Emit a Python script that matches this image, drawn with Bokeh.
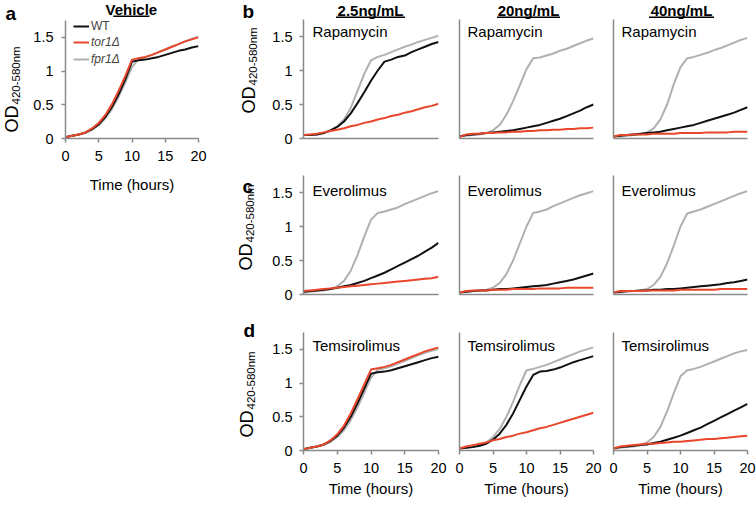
import math
from bokeh.plotting import figure
from bokeh.models import Legend, LegendItem, Arrow, FixedTicker
from bokeh.core.properties import value
from bokeh.layouts import row, column
from bokeh.embed import file_html
from bokeh.resources import INLINE

# ---------------- data ----------------
hours = list(range(21))
x_ticks = [0, 5, 10, 15, 20]
y_ticks = [0, 0.5, 1, 1.5]
y_tick_labels = ["0", "0.5", "1", "1.5"]
strains = ["WT", "tor1Δ", "fpr1Δ"]
drugs = ["Rapamycin", "Everolimus", "Temsirolimus"]
doses = ["2.5ng/mL", "20ng/mL", "40ng/mL"]
vehicle_title = "Vehicle"
panel_letters = ["a", "b", "c", "d"]
x_label = "Time (hours)"
y_label_main = "OD"
y_label_sub = "420-580nm"

# Vehicle
veh_wt = [0.02, 0.04, 0.06, 0.09, 0.14, 0.21, 0.32, 0.47, 0.66, 0.88, 1.14, 1.16, 1.17, 1.19, 1.21, 1.24, 1.27, 1.30, 1.32, 1.35, 1.37]
veh_tor = [0.02, 0.04, 0.06, 0.09, 0.15, 0.23, 0.35, 0.51, 0.71, 0.93, 1.17, 1.19, 1.21, 1.24, 1.28, 1.32, 1.36, 1.40, 1.44, 1.47, 1.50]
veh_fpr = [0.02, 0.04, 0.06, 0.08, 0.13, 0.20, 0.30, 0.44, 0.62, 0.83, 1.06, 1.18, 1.20, 1.24, 1.28, 1.32, 1.36, 1.40, 1.44, 1.48, 1.51]

# Rapamycin
rap25_wt = [0.05, 0.05, 0.06, 0.08, 0.12, 0.17, 0.25, 0.37, 0.52, 0.68, 0.85, 1.00, 1.13, 1.16, 1.20, 1.22, 1.27, 1.31, 1.35, 1.39, 1.42]
rap25_tor = [0.05, 0.06, 0.07, 0.09, 0.11, 0.13, 0.15, 0.18, 0.20, 0.23, 0.25, 0.28, 0.30, 0.33, 0.35, 0.38, 0.40, 0.43, 0.46, 0.48, 0.51]
rap25_fpr = [0.05, 0.05, 0.06, 0.08, 0.12, 0.18, 0.28, 0.45, 0.70, 0.95, 1.15, 1.20, 1.23, 1.27, 1.31, 1.35, 1.38, 1.42, 1.45, 1.48, 1.51]

rap20_wt = [0.03, 0.05, 0.06, 0.07, 0.08, 0.09, 0.10, 0.11, 0.12, 0.14, 0.16, 0.18, 0.20, 0.23, 0.26, 0.29, 0.33, 0.37, 0.41, 0.46, 0.50]
rap20_tor = [0.02, 0.06, 0.07, 0.07, 0.08, 0.08, 0.09, 0.09, 0.10, 0.10, 0.11, 0.11, 0.12, 0.12, 0.13, 0.13, 0.14, 0.14, 0.15, 0.15, 0.16]
rap20_fpr = [0.03, 0.04, 0.05, 0.06, 0.08, 0.12, 0.20, 0.35, 0.55, 0.78, 1.02, 1.18, 1.19, 1.22, 1.25, 1.29, 1.32, 1.36, 1.40, 1.44, 1.47]

rap40_wt = [0.03, 0.04, 0.05, 0.06, 0.07, 0.08, 0.09, 0.10, 0.12, 0.14, 0.16, 0.18, 0.20, 0.23, 0.26, 0.29, 0.32, 0.35, 0.38, 0.42, 0.46]
rap40_tor = [0.03, 0.05, 0.05, 0.06, 0.06, 0.06, 0.07, 0.07, 0.07, 0.07, 0.08, 0.08, 0.08, 0.08, 0.09, 0.09, 0.09, 0.09, 0.10, 0.10, 0.10]
rap40_fpr = [0.03, 0.03, 0.04, 0.05, 0.06, 0.09, 0.15, 0.28, 0.50, 0.80, 1.05, 1.18, 1.20, 1.23, 1.26, 1.30, 1.33, 1.37, 1.41, 1.45, 1.48]

# Everolimus
eve25_wt = [0.04, 0.05, 0.06, 0.07, 0.08, 0.10, 0.12, 0.14, 0.17, 0.20, 0.24, 0.28, 0.32, 0.37, 0.42, 0.47, 0.52, 0.57, 0.63, 0.69, 0.76]
eve25_tor = [0.05, 0.06, 0.07, 0.08, 0.09, 0.10, 0.11, 0.12, 0.13, 0.14, 0.15, 0.16, 0.17, 0.18, 0.19, 0.20, 0.21, 0.22, 0.23, 0.24, 0.26]
eve25_fpr = [0.03, 0.04, 0.05, 0.06, 0.08, 0.12, 0.20, 0.35, 0.58, 0.85, 1.10, 1.20, 1.22, 1.25, 1.28, 1.33, 1.37, 1.41, 1.45, 1.49, 1.52]

eve20_wt = [0.03, 0.04, 0.05, 0.06, 0.06, 0.07, 0.08, 0.08, 0.09, 0.10, 0.11, 0.12, 0.13, 0.14, 0.16, 0.18, 0.20, 0.22, 0.25, 0.28, 0.31]
eve20_tor = [0.03, 0.05, 0.06, 0.06, 0.06, 0.07, 0.07, 0.07, 0.08, 0.08, 0.08, 0.08, 0.09, 0.09, 0.09, 0.09, 0.10, 0.10, 0.10, 0.10, 0.10]
eve20_fpr = [0.03, 0.04, 0.05, 0.06, 0.07, 0.10, 0.17, 0.30, 0.50, 0.75, 1.00, 1.20, 1.22, 1.25, 1.30, 1.34, 1.38, 1.42, 1.46, 1.49, 1.52]

eve40_wt = [0.03, 0.04, 0.05, 0.05, 0.06, 0.06, 0.07, 0.07, 0.08, 0.08, 0.09, 0.10, 0.11, 0.12, 0.13, 0.14, 0.15, 0.17, 0.18, 0.20, 0.22]
eve40_tor = [0.03, 0.05, 0.05, 0.05, 0.05, 0.06, 0.06, 0.06, 0.06, 0.06, 0.07, 0.07, 0.07, 0.07, 0.07, 0.07, 0.08, 0.08, 0.08, 0.08, 0.08]
eve40_fpr = [0.03, 0.03, 0.04, 0.05, 0.06, 0.08, 0.14, 0.26, 0.46, 0.72, 1.00, 1.19, 1.22, 1.25, 1.29, 1.33, 1.37, 1.41, 1.45, 1.49, 1.52]

# Temsirolimus
tem25_wt = [0.02, 0.04, 0.06, 0.09, 0.14, 0.22, 0.34, 0.50, 0.70, 0.92, 1.14, 1.16, 1.17, 1.19, 1.22, 1.25, 1.28, 1.31, 1.34, 1.37, 1.39]
tem25_tor = [0.02, 0.04, 0.06, 0.09, 0.15, 0.24, 0.37, 0.55, 0.76, 0.98, 1.20, 1.22, 1.24, 1.27, 1.31, 1.35, 1.39, 1.43, 1.47, 1.50, 1.53]
tem25_fpr = [0.02, 0.04, 0.06, 0.08, 0.13, 0.20, 0.30, 0.45, 0.64, 0.86, 1.08, 1.20, 1.22, 1.25, 1.29, 1.33, 1.37, 1.41, 1.45, 1.48, 1.51]

tem20_wt = [0.03, 0.04, 0.05, 0.07, 0.10, 0.16, 0.25, 0.38, 0.55, 0.75, 0.95, 1.12, 1.17, 1.18, 1.20, 1.23, 1.27, 1.31, 1.34, 1.37, 1.40]
tem20_tor = [0.03, 0.06, 0.08, 0.10, 0.12, 0.15, 0.17, 0.20, 0.22, 0.25, 0.27, 0.30, 0.33, 0.35, 0.38, 0.41, 0.44, 0.47, 0.50, 0.53, 0.56]
tem20_fpr = [0.03, 0.04, 0.06, 0.08, 0.12, 0.20, 0.32, 0.50, 0.72, 0.97, 1.19, 1.21, 1.24, 1.27, 1.31, 1.35, 1.39, 1.43, 1.47, 1.50, 1.53]

tem40_wt = [0.03, 0.05, 0.06, 0.07, 0.08, 0.09, 0.11, 0.13, 0.16, 0.19, 0.22, 0.26, 0.30, 0.34, 0.39, 0.44, 0.49, 0.54, 0.59, 0.64, 0.69]
tem40_tor = [0.03, 0.06, 0.07, 0.08, 0.09, 0.10, 0.10, 0.11, 0.12, 0.13, 0.13, 0.14, 0.15, 0.16, 0.17, 0.17, 0.18, 0.19, 0.20, 0.21, 0.22]
tem40_fpr = [0.03, 0.04, 0.05, 0.06, 0.08, 0.12, 0.20, 0.35, 0.58, 0.85, 1.10, 1.19, 1.21, 1.24, 1.28, 1.32, 1.36, 1.40, 1.44, 1.47, 1.49]

grid_data = [
    [(rap25_wt, rap25_tor, rap25_fpr), (rap20_wt, rap20_tor, rap20_fpr), (rap40_wt, rap40_tor, rap40_fpr)],
    [(eve25_wt, eve25_tor, eve25_fpr), (eve20_wt, eve20_tor, eve20_fpr), (eve40_wt, eve40_tor, eve40_fpr)],
    [(tem25_wt, tem25_tor, tem25_fpr), (tem20_wt, tem20_tor, tem20_fpr), (tem40_wt, tem40_tor, tem40_fpr)],
]

# ---------------- style ----------------
FONT = "Liberation Sans"
C_WT = "#111111"
C_TOR = "#e9472b"
C_FPR = "#b0b0b0"
AXIS_C = "#8a8a8a"
X_MAX = 20.0
Y_MAX = 1.75
EM_SHIFT = 0.36   # text glyph draws its baseline this many em below / right of its anchor


def make_fig(bl, fw, br, bt, fh, bb, show_xticks, show_yticks, xlabel=False):
    p = figure(width=bl + fw + br, height=bt + fh + bb,
               x_range=(0, X_MAX), y_range=(0, Y_MAX),
               output_backend="svg", toolbar_location=None,
               min_border_left=bl, min_border_right=br,
               min_border_top=bt, min_border_bottom=bb)
    p.outline_line_color = None
    p.xgrid.visible = False
    p.ygrid.visible = False
    for ax in (p.xaxis[0], p.yaxis[0]):
        ax.axis_line_color = AXIS_C
        ax.axis_line_width = 1.5
        ax.major_tick_line_color = AXIS_C
        ax.major_tick_line_width = 1.5
        ax.major_tick_in = 0
        ax.major_tick_out = 4
        ax.minor_tick_in = 0
        ax.minor_tick_out = 0
        ax.major_label_text_font = FONT
        ax.major_label_text_font_size = "14.5px"
        ax.major_label_text_color = "black"
    xa, ya = p.xaxis[0], p.yaxis[0]
    if show_xticks:
        xa.ticker = FixedTicker(ticks=x_ticks)
        xa.major_label_standoff = 8
    else:
        xa.ticker = FixedTicker(ticks=[])
        xa.major_tick_out = 0
        xa.major_label_standoff = 0
    if show_yticks:
        ya.ticker = FixedTicker(ticks=y_ticks)
        ya.major_label_overrides = {t: s for t, s in zip(y_ticks, y_tick_labels)}
        ya.major_label_standoff = 7
    else:
        ya.ticker = FixedTicker(ticks=[])
        ya.major_tick_out = 0
        ya.major_label_standoff = 0
    if xlabel:
        xa.axis_label = x_label
        xa.axis_label_text_font = FONT
        xa.axis_label_text_font_size = "15px"
        xa.axis_label_text_font_style = "normal"
        xa.axis_label_text_color = "black"
        xa.axis_label_standoff = 4
    return p


def make_strip(w, h):
    # plain text area: its frame fills the whole canvas, data units = pixels
    s = figure(width=w, height=h, x_range=(0, w), y_range=(0, h),
               output_backend="svg", toolbar_location=None,
               x_axis_location=None, y_axis_location=None,
               min_border_left=0, min_border_right=0, min_border_top=0, min_border_bottom=0)
    s.outline_line_color = None
    s.xgrid.visible = False
    s.ygrid.visible = False
    return s


def htext(s, x, y_base, text, size, style="normal", align="left"):
    s.text(x=[x], y=[y_base + EM_SHIFT * size], text=[text], angle=0.0,
           text_font=value(FONT), text_font_size=value(f"{size}px"),
           text_font_style=style, text_align=align,
           text_baseline="alphabetic", text_color="black")


def vtext(s, x_base, y, text, size):
    s.text(x=[x_base - EM_SHIFT * size], y=[y], text=[text], angle=math.pi / 2,
           text_font=value(FONT), text_font_size=value(f"{size}px"),
           text_align="left", text_baseline="alphabetic", text_color="black")


def sylabel(s, x_base, y):
    vtext(s, x_base, y, y_label_main, 18)
    vtext(s, x_base + 1.5, y + 28, y_label_sub, 11.5)


def stitle(s, cx, y_base, text, w):
    htext(s, cx, y_base, text, 15, style="bold", align="center")
    s.add_layout(Arrow(end=None, start=None, x_start=cx - w / 2, x_end=cx + w / 2,
                       y_start=y_base - 1.7, y_end=y_base - 1.7, line_width=1.4, line_color="black"))


def curves(p, wt, tor, fpr):
    r_fpr = p.line(hours, fpr, line_color=C_FPR, line_width=2)
    r_wt = p.line(hours, wt, line_color=C_WT, line_width=2)
    r_tor = p.line(hours, tor, line_color=C_TOR, line_width=2)
    return r_wt, r_tor, r_fpr


# ---------------- panel a ----------------
strip_a = make_strip(30, 200)
sylabel(strip_a, 18, 200 - 132)
htext(strip_a, 5, 200 - 20, panel_letters[0], 19, style="bold")

title_a = make_strip(198, 19)
stitle(title_a, 98, 5, vehicle_title, 54)

pa = make_fig(34, 134, 30, 1, 118, 62, True, True, xlabel=True)
pa.xaxis[0].axis_label_standoff = 12
pa.yaxis[0].major_label_standoff = 8
r_wt, r_tor, r_fpr = curves(pa, veh_wt, veh_tor, veh_fpr)
leg1 = Legend(items=[LegendItem(label=strains[0], renderers=[r_wt])], location=(8, 104))
leg2 = Legend(items=[LegendItem(label=strains[1], renderers=[r_tor]),
                     LegendItem(label=strains[2], renderers=[r_fpr])], location=(8, 71))
for lg, st in ((leg1, "normal"), (leg2, "italic")):
    lg.border_line_color = None
    lg.background_fill_alpha = 0
    lg.padding = 0
    lg.margin = 0
    lg.spacing = 1
    lg.glyph_width = 16
    lg.glyph_height = 16
    lg.label_height = 16
    lg.label_standoff = 2
    lg.label_text_font = FONT
    lg.label_text_font_size = "12px"
    lg.label_text_font_style = st
    lg.label_text_baseline = "middle"
    pa.add_layout(lg)

left_block = row(strip_a, column(title_a, pa))

# ---------------- panels b, c, d ----------------
H = 505
strip_r = make_strip(34, H)
letter_pos = [(14, 18), (14, 193), (15, 337)]
ylab_x = [27, 24, 25]
ylab_bottom = [113, 270, 437]
for i in range(3):
    sylabel(strip_r, ylab_x[i], H - ylab_bottom[i])
for i in range(3):
    lx, ly = letter_pos[i]
    htext(strip_r, lx, H - ly, panel_letters[i + 1], 19, style="bold")

title_r = make_strip(494, 19)
title_cx = [108, 266, 419]
title_w = [69, 63, 65]
for j in range(3):
    stitle(title_r, title_cx[j], 4, doses[j], title_w[j])

col_borders = [(41, 135, 11), (10, 134, 10), (10, 134, 9)]
row_borders = [(0, 119, 18), (19, 119, 19), (19, 118, 55)]
drug_dx = [9, 8, 8]
drug_base = [1.49, 1.45, 1.47]

rows = []
for i in range(3):
    figs = []
    for j in range(3):
        bl, fw, br = col_borders[j]
        bt, fh, bb = row_borders[i]
        p = make_fig(bl, fw, br, bt, fh, bb, show_xticks=(i == 2), show_yticks=(j == 0), xlabel=(i == 2))
        wt, tor, fpr = grid_data[i][j]
        curves(p, wt, tor, fpr)
        p.text(x=[drug_dx[j] * X_MAX / fw], y=[drug_base[i] + EM_SHIFT * 15 * Y_MAX / fh],
               text=[drugs[i]], text_font=value(FONT), text_font_size=value("15px"),
               text_align="left", text_baseline="alphabetic", text_color="black")
        figs.append(p)
    rows.append(row(*figs))

right_block = row(strip_r, column(title_r, *rows))
layout = row(left_block, right_block)

open("out.html", "w").write(file_html(layout, INLINE))
